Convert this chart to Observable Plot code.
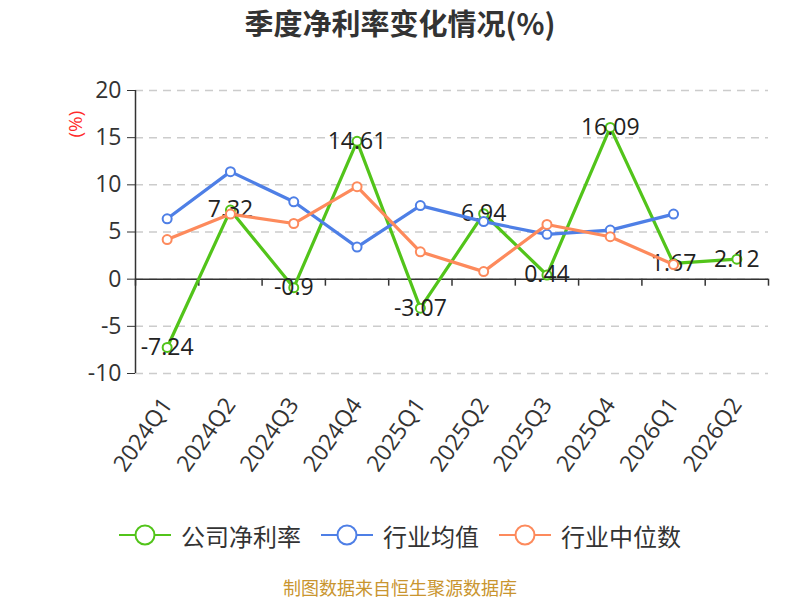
<!DOCTYPE html>
<html>
<head>
<meta charset="utf-8">
<script src="https://cdn.jsdelivr.net/npm/d3@7"></script>
<script src="https://cdn.jsdelivr.net/npm/@observablehq/plot@0.6"></script>
<style>
  body { margin: 0; background: #fff; width: 800px; height: 600px; overflow: hidden;
         font-family: "Open Sans", "Noto Sans CJK SC", sans-serif; }
  #title { height: 45px; line-height: 45px; text-align: center; font-size: 29px; font-weight: bold; color: #333;
           font-family: "Noto Sans CJK SC", "Open Sans", sans-serif; }
  #chart { height: 455px; }
  #legend { height: 75px; box-sizing: border-box; padding-bottom: 5px; display: flex; justify-content: center; align-items: center; }
  .item { display: flex; align-items: center; margin: 0 10px; }
  .item span { font-size: 24px; color: #333; margin-left: 10px; font-family: "Noto Sans CJK SC", sans-serif; }
  #caption { height: 25px; line-height: 25px; text-align: center; font-size: 18px; color: #c9952f;
             font-family: "Noto Sans CJK SC", sans-serif; }
</style>
</head>
<body>
<div id="title">季度净利率变化情况(%)</div>
<div id="chart"></div>
<div id="legend"></div>
<div id="caption">制图数据来自恒生聚源数据库</div>
<script>
const quarters = ["2024Q1","2024Q2","2024Q3","2024Q4","2025Q1","2025Q2","2025Q3","2025Q4","2026Q1","2026Q2"];
const company = [-7.24, 7.32, -0.9, 14.61, -3.07, 6.94, 0.44, 16.09, 1.67, 2.12];
const industryAvg = [6.4, 11.4, 8.2, 3.4, 7.8, 6.1, 4.75, 5.2, 6.9, null];
const industryMedian = [4.2, 6.9, 5.9, 9.8, 2.9, 0.8, 5.8, 4.5, 1.55, null];
const yTicks = [-10, -5, 0, 5, 10, 15, 20];

const seriesNames = ["公司净利率", "行业均值", "行业中位数"];
const colors = ["#52c41a", "#4e7fe6", "#fd8a5c"];

const toRows = (vals) => vals.map((v, i) => ({i, q: quarters[i], v})).filter(d => d.v != null);
const rowsC = toRows(company);
const rowsA = toRows(industryAvg);
const rowsM = toRows(industryMedian);
const boundaries = d3.range(quarters.length + 1);
const centers = quarters.map((q, i) => i + 0.5);

function seriesMarks(rows, color, withLabels) {
  const marks = [
    Plot.line(rows, {x: d => d.i + 0.5, y: "v", stroke: color, strokeWidth: 3.2}),
    Plot.dot(rows, {x: d => d.i + 0.5, y: "v", r: 4.5, fill: "#fff", stroke: color, strokeWidth: 2})
  ];
  if (withLabels) {
    marks.push(Plot.text(rows, {x: d => d.i + 0.5, y: "v", text: d => String(d.v), fontSize: 23, fill: "#222"}));
  }
  return marks;
}

const chart = Plot.plot({
  width: 800,
  height: 455,
  marginTop: 45,
  marginLeft: 135,
  marginRight: 32,
  marginBottom: 127,
  style: {fontFamily: "'Open Sans', 'Noto Sans CJK SC', sans-serif", background: "#fff", overflow: "visible"},
  x: {domain: [0, quarters.length]},
  y: {domain: [-10, 20]},
  marks: [
    Plot.gridY(yTicks, {stroke: "#ccc", strokeOpacity: 1, strokeWidth: 1.5, strokeDasharray: "8,6"}),
    Plot.axisY({ticks: yTicks, tickFormat: d => String(d), tickSize: 8, tickPadding: 6, fontSize: 23, color: "#333", label: null}),
    Plot.ruleX([0], {stroke: "#333", strokeWidth: 1.5}),
    Plot.ruleY([0], {stroke: "#333", strokeWidth: 1.5}),
    Plot.ruleX(boundaries, {x: d => d, y1: 0, y2: 0, insetBottom: -7, stroke: "#333", strokeWidth: 1.5}),
    Plot.axisX({anchor: "bottom", ticks: centers, tickFormat: d => quarters[Math.floor(d)], tickSize: 0, tickPadding: 27,
                tickRotate: -55, fontSize: 23, color: "#333", label: null}),
    Plot.text(["(%)"], {frameAnchor: "top-left", dx: -67, dy: 47, rotate: -90, fill: "#ff2a2a", fontSize: 19}),
    ...seriesMarks(rowsC, colors[0], true),
    ...seriesMarks(rowsA, colors[1], false),
    ...seriesMarks(rowsM, colors[2], false)
  ]
});
document.getElementById("chart").appendChild(chart);

const legend = document.getElementById("legend");
seriesNames.forEach((name, k) => {
  const item = document.createElement("div");
  item.className = "item";
  item.innerHTML = `<svg width="52" height="24"><line x1="0" y1="12" x2="52" y2="12" stroke="${colors[k]}" stroke-width="2"/><circle cx="26" cy="12" r="9.5" fill="#fff" stroke="${colors[k]}" stroke-width="2"/></svg><span>${name}</span>`;
  legend.appendChild(item);
});
</script>
</body>
</html>
